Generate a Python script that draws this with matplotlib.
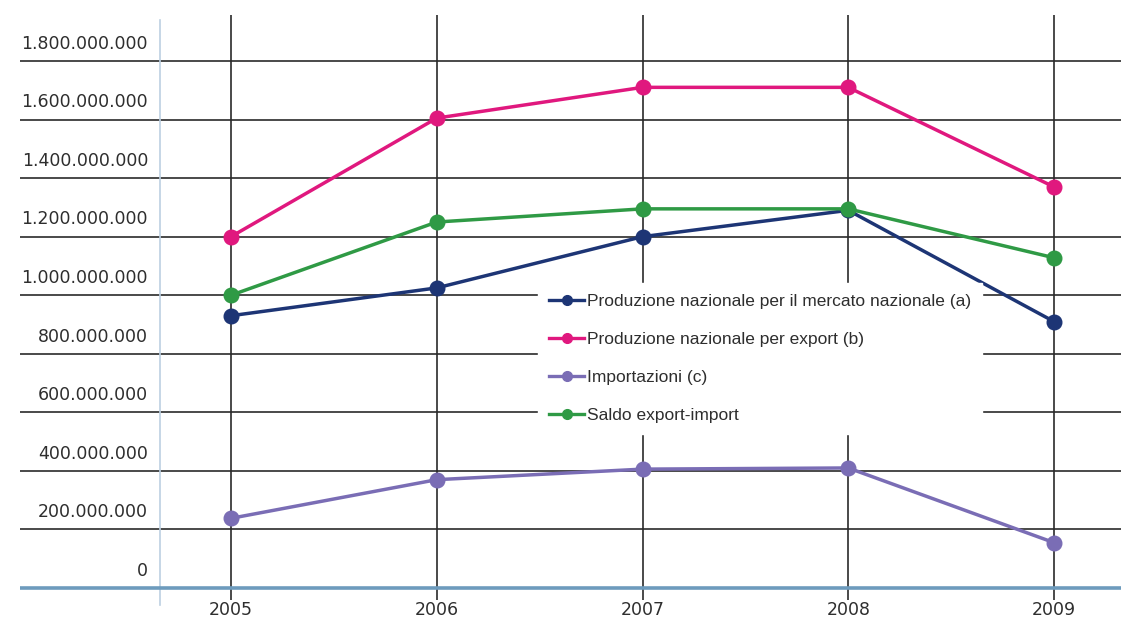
import matplotlib
matplotlib.use('Agg')
import matplotlib.pyplot as plt
from matplotlib.lines import Line2D

# data (values in euro)
years = [2005, 2006, 2007, 2008, 2009]
mercato_nazionale = [930e6, 1025e6, 1200e6, 1290e6, 910e6]
export = [1200e6, 1605e6, 1710e6, 1710e6, 1370e6]
importazioni = [238e6, 370e6, 406e6, 410e6, 155e6]
saldo = [1000e6, 1250e6, 1295e6, 1295e6, 1128e6]

labels = ['Produzione nazionale per il mercato nazionale (a)',
          'Produzione nazionale per export (b)',
          'Importazioni (c)',
          'Saldo export-import']
colors = ['#1d3575', '#e0187e', '#7a6db5', '#2f9a45']

yticks = [0, 200e6, 400e6, 600e6, 800e6, 1000e6, 1200e6, 1400e6, 1600e6, 1800e6]
ytick_labels = ['0', '200.000.000', '400.000.000', '600.000.000', '800.000.000',
                '1.000.000.000', '1.200.000.000', '1.400.000.000',
                '1.600.000.000', '1.800.000.000']

W, H = 1121, 624
fig = plt.figure(figsize=(W / 100, H / 100), dpi=100)
# axes from x=20 px to the right edge, y=15 px to 600 px
ax = fig.add_axes([20 / W, (H - 600) / H, 1 - 20 / W, (600 - 15) / H])

px_year = (1054 - 231) / 4.0
x_left = 2005 - (231 - 20) / px_year
x_right = 2005 + (1121 - 231) / px_year
ax.set_xlim(x_left, x_right)
px_val = 1800e6 / (588 - 61)
ax.set_ylim(-(600 - 588) * px_val, (588 - 15) * px_val)

for s in ax.spines.values():
    s.set_visible(False)

# grid
for v in yticks[1:]:
    ax.axhline(v, color='#3a3a3a', lw=1.3, zorder=1)
for yr in years:
    ax.axvline(yr, color='#2a2a2a', lw=1.2, zorder=1)
ax.axhline(0, color='#6d9bbd', lw=2.6, zorder=2)
# light vertical axis line
x_axis = 2005 - (231 - 160) / px_year
ax.plot([x_axis, x_axis], [(588 - 20) * px_val, -(605 - 588) * px_val],
        color='#bcd0e2', lw=1.2, clip_on=False, zorder=1)

# y labels sitting on their grid lines
x_lab = 2005 - (231 - 148) / px_year
for v, t in zip(yticks, ytick_labels):
    ax.text(x_lab, v + 28e6, t, ha='right', va='bottom', fontsize=12.5,
            family=['DejaVu Sans'], color='#2e2e2e')
ax.set_yticks([])

ax.set_xticks(years)
ax.set_xticklabels([str(y) for y in years], fontsize=12.5, color='#2e2e2e')
ax.tick_params(axis='x', length=0, pad=1)

series = [mercato_nazionale, export, importazioni, saldo]
for vals, c, lab in zip(series, colors, labels):
    ax.plot(years, vals, color=c, lw=2.5, marker='o', markersize=10.5,
            label=lab, zorder=3)

handles = [Line2D([0], [0], color=c, lw=2.4, marker='o', markersize=7) for c in colors]
leg = ax.legend(handles, labels, loc='upper left',
                bbox_to_anchor=((538 - 20) / 1101, (600 - 283) / 585),
                frameon=True, facecolor='white', edgecolor='white', framealpha=1,
                fancybox=False, handlelength=2.0, handletextpad=0.15,
                labelspacing=1.3, borderpad=0.65, borderaxespad=0,
                prop={'family': ['Liberation Sans', 'DejaVu Sans'], 'size': 12.5})
leg.set_zorder(5)
for t in leg.get_texts():
    t.set_color('#2e2e2e')

fig.savefig('out.png', dpi=100, facecolor='white')
